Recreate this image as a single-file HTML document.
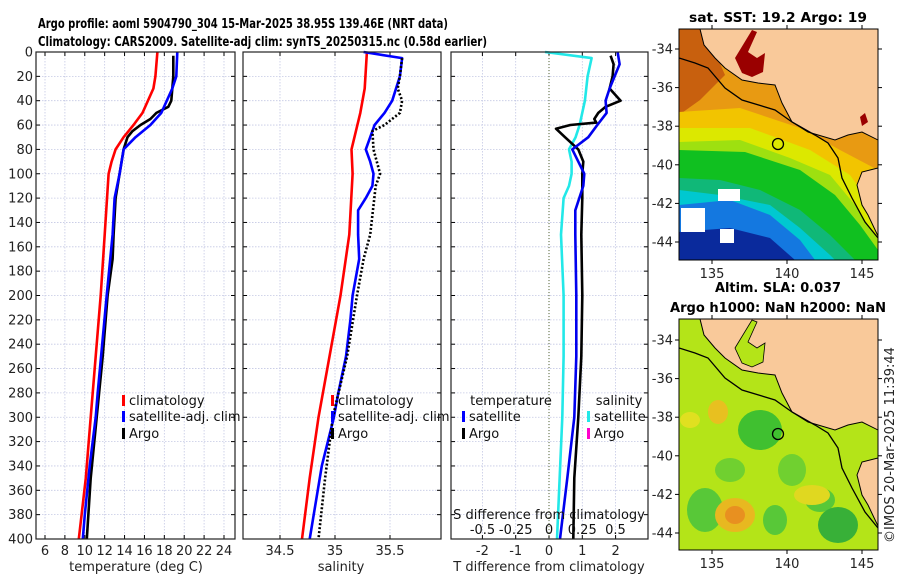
<!DOCTYPE html>
<html><head><meta charset="utf-8"><style>
html,body{margin:0;padding:0;background:#fff;}
svg{display:block;font-family:"DejaVu Sans","Liberation Sans",sans-serif;}
.tk{font-size:13px;fill:#222;}
.tt{font-size:13px;font-weight:bold;fill:#000;font-family:"DejaVu Sans","Liberation Sans",sans-serif;}
.lg{font-size:13px;fill:#111;}
</style></head><body>
<svg id="fig" width="900" height="580" viewBox="0 0 900 580">
<text class="tt" x="38" y="28" textLength="410" lengthAdjust="spacingAndGlyphs">Argo profile: aoml 5904790_304 15-Mar-2025 38.95S 139.46E (NRT data)</text>
<text class="tt" x="38" y="46" textLength="449" lengthAdjust="spacingAndGlyphs">Climatology: CARS2009. Satellite-adj clim: synTS_20250315.nc (0.58d earlier)</text>
<g id="p1"></g>
<g id="p2"></g>
<g id="p3"></g>

<!-- SST map -->
<g>
<text class="tt" x="778" y="22" text-anchor="middle" textLength="178" lengthAdjust="spacingAndGlyphs">sat. SST: 19.2 Argo: 19</text>
<clipPath id="c1"><rect x="679" y="29" width="199" height="231"/></clipPath>
<g clip-path="url(#c1)">
<rect x="679" y="29" width="199" height="231" fill="#e89a12"/>
<polygon points="679,29 705,29 725,75 700,100 679,115" fill="#c8600e"/>
<polygon points="679,112 740,108 800,128 840,150 878,170 878,260 679,260" fill="#f2c400"/>
<polygon points="679,128 750,128 810,150 850,175 878,215 878,260 679,260" fill="#dce800"/>
<polygon points="679,142 740,140 790,158 830,175 855,205 878,240 878,260 679,260" fill="#9ee010"/>
<polygon points="679,150 745,152 800,170 835,195 860,225 878,250 878,260 679,260" fill="#10c020"/>
<polygon points="679,178 720,180 760,190 800,210 830,235 850,255 855,260 679,260" fill="#10b878"/>
<polygon points="679,190 720,195 770,205 800,228 830,255 835,260 679,260" fill="#00c8d0"/>
<polygon points="679,205 730,200 770,215 800,240 815,260 679,260" fill="#1478e0"/>
<polygon points="679,232 730,228 770,238 795,260 679,260" fill="#0a2a9c"/>
<rect x="681" y="208" width="24" height="24" fill="#fff"/>
<rect x="718" y="189" width="22" height="12" fill="#fff"/>
<rect x="720" y="229" width="14" height="14" fill="#fff"/>
<polygon points="700,29 878,29 878,140 862,132 848,135 835,140 808,132 792,122 782,103 775,85 758,83 742,80 725,68 715,58 704,45" fill="#f9c99a" stroke="#000" stroke-width="1"/>
<polygon points="878,168 862,172 857,185 862,205 868,215 878,236" fill="#f9c99a" stroke="#000" stroke-width="1"/>
<polygon points="735,58 752,30 757,32 748,52 757,58 765,53 763,72 752,77 742,73" fill="#9a0000"/>
<polygon points="860,117 865,113 868,122 862,126" fill="#9a0000"/>
<polyline points="679,58 695,63 708,68 725,88 742,100 775,110 792,122 815,135 828,143 838,158 842,178 852,198 865,222 878,238" fill="none" stroke="#000" stroke-width="1.3"/>
<circle cx="778" cy="144" r="5.5" fill="none" stroke="#000" stroke-width="1.3"/>
</g>
<rect x="679" y="29" width="199" height="231" fill="none" stroke="#000"/>
</g>

<!-- SLA map -->
<g>
<text class="tt" x="778" y="292" text-anchor="middle" textLength="126" lengthAdjust="spacingAndGlyphs">Altim. SLA: 0.037</text>
<text class="tt" x="778" y="312" text-anchor="middle" textLength="216" lengthAdjust="spacingAndGlyphs">Argo h1000: NaN h2000: NaN</text>
<clipPath id="c2"><rect x="679" y="319" width="199" height="231"/></clipPath>
<g clip-path="url(#c2)">
<rect x="679" y="319" width="199" height="231" fill="#b4e418"/>
<ellipse cx="760" cy="430" rx="22" ry="20" fill="#40c030"/>
<ellipse cx="705" cy="510" rx="18" ry="22" fill="#58c838"/>
<ellipse cx="730" cy="470" rx="15" ry="12" fill="#70d030"/>
<ellipse cx="820" cy="500" rx="15" ry="12" fill="#58c838"/>
<ellipse cx="838" cy="525" rx="20" ry="18" fill="#38b038"/>
<ellipse cx="792" cy="470" rx="14" ry="16" fill="#70d030"/>
<ellipse cx="775" cy="520" rx="12" ry="15" fill="#58c838"/>
<ellipse cx="735" cy="515" rx="20" ry="17" fill="#e8b820"/>
<ellipse cx="735" cy="515" rx="10" ry="9" fill="#e89020"/>
<ellipse cx="718" cy="412" rx="10" ry="12" fill="#e8c020"/>
<ellipse cx="812" cy="495" rx="18" ry="10" fill="#e0d820"/>
<ellipse cx="690" cy="420" rx="10" ry="8" fill="#e0e020"/>
<polygon points="700,319 878,319 878,430 862,422 848,425 835,430 808,422 792,412 782,393 775,375 758,373 742,370 725,358 715,348 704,335" fill="#f9c99a" stroke="#000" stroke-width="1"/>
<polygon points="878,458 862,462 857,475 862,495 868,505 878,526" fill="#f9c99a" stroke="#000" stroke-width="1"/>
<polygon points="735,348 752,320 757,322 748,342 757,348 765,343 763,362 752,367 742,363" fill="#b4e418" stroke="#000" stroke-width="0.8"/>
<polyline points="679,348 695,353 708,358 725,378 742,390 775,400 792,412 815,425 828,433 838,448 842,468 852,488 865,512 878,528" fill="none" stroke="#000" stroke-width="1.3"/>
<circle cx="778" cy="434" r="5.5" fill="none" stroke="#000" stroke-width="1.3"/>
</g>
<rect x="679" y="319" width="199" height="231" fill="none" stroke="#000"/>
</g>
<g id="maxes"></g>
<text class="tk" transform="translate(894,445) rotate(-90)" text-anchor="middle" font-size="13">©IMOS 20-Mar-2025 11:39:44</text>
</svg>
<script>
const NS="http://www.w3.org/2000/svg";
const depthTicks=[0,20,40,60,80,100,120,140,160,180,200,220,240,260,280,300,320,340,360,380,400];
const tempTicks=[6,8,10,12,14,16,18,20,22,24];
const salTicks=[34.5,35,35.5];
const tdiffTicks=[-2,-1,0,1,2];
const sdiffTicks=[-0.5,-0.25,0,0.25,0.5];
const sdiffLabels=["-0.5","-0.25","0","0.25","0.5"];
// temperature profiles
const tClimDepth=[0,20,30,50,60,70,80,90,100,150,200,250,300,350,400];
const tClim=[17.3,17.1,16.9,15.8,14.9,13.9,13.1,12.7,12.4,12.0,11.6,11.1,10.6,10.1,9.4];
const tSatDepth=[0,20,30,50,60,70,80,100,120,150,200,280,300,340,380,400];
const tSat=[19.3,19.2,18.8,17.7,16.6,15.1,13.9,13.5,13.0,12.8,12.2,11.3,11.1,10.5,10.0,9.8];
const tArgoDepth=[3,20,40,45,50,55,60,65,70,80,120,150,170,200,250,300,350,400];
const tArgo=[18.9,18.9,18.7,18.4,17.2,16.6,15.6,14.8,14.3,13.9,13.1,12.9,12.8,12.3,11.8,11.2,10.6,10.2];
// salinity profiles
const sClimDepth=[0,30,50,80,100,150,200,260,300,350,400];
const sClim=[35.29,35.27,35.23,35.15,35.16,35.13,35.05,34.93,34.85,34.77,34.70];
const sSatDepth=[0,5,20,40,50,60,70,80,90,100,110,120,130,150,170,200,220,250,280,300,340,400];
const sSat=[35.26,35.61,35.59,35.52,35.45,35.36,35.32,35.28,35.32,35.35,35.34,35.28,35.21,35.21,35.22,35.16,35.14,35.10,35.03,34.99,34.88,34.77];
const sArgoDepth=[5,20,30,40,50,60,65,80,90,100,110,150,170,200,250,300,350,400];
const sArgo=[35.61,35.59,35.57,35.61,35.59,35.45,35.34,35.35,35.38,35.41,35.37,35.32,35.26,35.20,35.11,34.98,34.91,34.85];
// differences
const dSatSDepth=[0,5,20,40,60,70,80,90,100,110,120,150,200,250,300,400];
const dSatS=[-0.03,0.32,0.29,0.27,0.23,0.20,0.15,0.17,0.17,0.15,0.11,0.09,0.11,0.11,0.10,0.06];
const dSatTDepth=[0,10,30,40,50,60,70,80,100,110,130,150,200,250,300,350,400];
const dSatT=[2.06,2.12,1.82,1.70,1.73,1.45,1.18,0.70,1.06,1.03,0.79,0.79,0.82,0.82,0.76,0.55,0.33];
const dArgoTDepth=[3,10,20,30,40,45,50,55,58,60,63,70,80,90,100,120,150,200,250,300,350,400];
const dArgoT=[1.85,1.94,1.91,1.82,2.15,1.70,1.48,1.36,1.42,0.64,0.21,0.48,0.88,1.03,1.00,1.00,0.97,1.00,0.97,0.88,0.76,0.73];
const lonTicks=[135,140,145];
const latTicks=[-34,-36,-38,-40,-42,-44];

const Y=d=>52+d*(539-52)/400;
const XT=t=>45+(t-6)*9.944;
const XS=s=>335+(s-35)*110;
const XD=v=>549+v*33.3;
const XDS=v=>549+v*133;
const svg=document.getElementById('fig');
function mk(tag,attrs,parent){const e=document.createElementNS(NS,tag);for(const k in attrs)e.setAttribute(k,attrs[k]);(parent||svg).appendChild(e);return e;}
function txt(s,x,y,anchor,parent,cls){const e=mk('text',{x:x,y:y,'text-anchor':anchor||'middle',class:cls||'tk'},parent);e.textContent=s;return e;}

function panel(g,x0,x1,xt,xfun,labels,depthLabels){
  depthTicks.forEach(d=>{
    const l=mk('line',{x1:x0,x2:x1,y1:Y(d),y2:Y(d),stroke:'#c4c8e4','stroke-width':0.8,'stroke-dasharray':'1.5 1.5'},g);
    
    
    mk('line',{x1:x0,x2:x0+4,y1:Y(d),y2:Y(d),stroke:'#000'},g);
    mk('line',{x1:x1-4,x2:x1,y1:Y(d),y2:Y(d),stroke:'#000'},g);
    if(depthLabels){const t=txt(String(d),33,Y(d)+4.5,'end',g);
      
      }
  });
  xt.forEach((v,i)=>{
    const x=xfun(v);
    const l=mk('line',{x1:x,x2:x,y1:52,y2:539,stroke:'#c4c8e4','stroke-width':0.8,'stroke-dasharray':'1.5 1.5'},g);
    
    
    mk('line',{x1:x,x2:x,y1:539,y2:535,stroke:'#000'},g);
    mk('line',{x1:x,x2:x,y1:52,y2:56,stroke:'#000'},g);
    const t=txt(labels?labels[i]:String(v),x,555,'middle',g);
    
    
  });
}
function line(g,depths,vals,xf,color,name,dash,w){
  const p=mk('polyline',{points:depths.map((d,i)=>xf(vals[i]).toFixed(1)+','+Y(d).toFixed(1)).join(' '),fill:'none',stroke:color,'stroke-width':w||2.6,'stroke-linejoin':'round'},g);
  if(dash)p.setAttribute('stroke-dasharray',dash);
  
  
}
function frame(g,x0,x1){mk('rect',{x:x0,y:52,width:x1-x0,height:487,fill:'none',stroke:'#222','stroke-width':1.2},g);}
function legItem(g,mx,y,color,label){
  mk('rect',{x:mx,y:y-10,width:3,height:11,fill:color},g);
  if(label){const t=txt(label,mx+7,y,'start',g,'lg');
  
  }
}

// Panel 1
const p1=document.getElementById('p1');
panel(p1,36,235,tempTicks,XT,null,true);
line(p1,tClimDepth,tClim,XT,'#ff0000','temp-climatology-line');
line(p1,tArgoDepth,tArgo,XT,'#000','temp-argo-line');
line(p1,tSatDepth,tSat,XT,'#0000ff','temp-satellite-line');
frame(p1,36,235);
legItem(p1,122,405,'#ff0000','climatology');
legItem(p1,122,421,'#0000ff','satellite-adj. clim');
legItem(p1,122,438,'#000','Argo');
let t=txt('temperature (deg C)',136,571,'middle',p1);t.setAttribute('font-size','13');



// Panel 2
const p2=document.getElementById('p2');
panel(p2,243,441,salTicks,XS,null,false);
line(p2,sClimDepth,sClim,XS,'#ff0000','sal-climatology-line');
line(p2,sSatDepth,sSat,XS,'#0000ff','sal-satellite-line');
line(p2,sArgoDepth,sArgo,XS,'#000','sal-argo-line','2 2',2.6);
frame(p2,243,441);
legItem(p2,331,405,'#ff0000','climatology');
legItem(p2,331,421,'#0000ff','satellite-adj. clim');
legItem(p2,331,438,'#000','Argo');
t=txt('salinity',341,571,'middle',p2);t.setAttribute('font-size','13');



// Panel 3
const p3=document.getElementById('p3');
panel(p3,451,648,tdiffTicks,XD,null,false);
mk('line',{x1:549,x2:549,y1:52,y2:539,stroke:'#556633','stroke-width':1,'stroke-dasharray':'1 2'},p3);
line(p3,dSatSDepth,dSatS,XDS,'#22e8e8','sal-diff-satellite-line');
line(p3,dArgoTDepth,dArgoT,XD,'#000','temp-diff-argo-line');
line(p3,dSatTDepth,dSatT,XD,'#0000ee','temp-diff-satellite-line');
frame(p3,451,648);
t=txt('temperature',511,405,'middle',p3,'lg');
legItem(p3,462,421,'#0000ff','satellite');
legItem(p3,462,438,'#000','Argo');
t=txt('salinity',619,405,'middle',p3,'lg');
legItem(p3,587,421,'#22e8e8','satellite');
legItem(p3,587,438,'#ff00cc','Argo');
t=txt('S difference from climatology',549,519,'middle',p3,'lg');


sdiffTicks.forEach((v,i)=>{const e=txt(sdiffLabels[i],XDS(v),534,'middle',p3,'lg');
  
  });
t=txt('T difference from climatology',549,571,'middle',p3);t.setAttribute('font-size','13');



// map axes
const ma=document.getElementById('maxes');
const LX=lon=>712+(lon-135)*15;
[[29,260,49],[319,550,340]].forEach(([top,bot,y34])=>{
  latTicks.forEach(lat=>{const y=y34+(-34-lat)*19.3;
    mk('line',{x1:679,x2:675,y1:y,y2:y,stroke:'#000'},ma);
    mk('line',{x1:878,x2:882,y1:y,y2:y,stroke:'#000'},ma);
    const e=txt(String(lat),673,y+4.5,'end',ma);
    
    });
  lonTicks.forEach(lon=>{const x=LX(lon);
    mk('line',{x1:x,x2:x,y1:bot,y2:bot+4,stroke:'#000'},ma);
    mk('line',{x1:x,x2:x,y1:top,y2:top-4,stroke:'#000'},ma);
    const e=txt(String(lon),x,bot+18,'middle',ma);
    
    });
});
</script>
</body></html>
